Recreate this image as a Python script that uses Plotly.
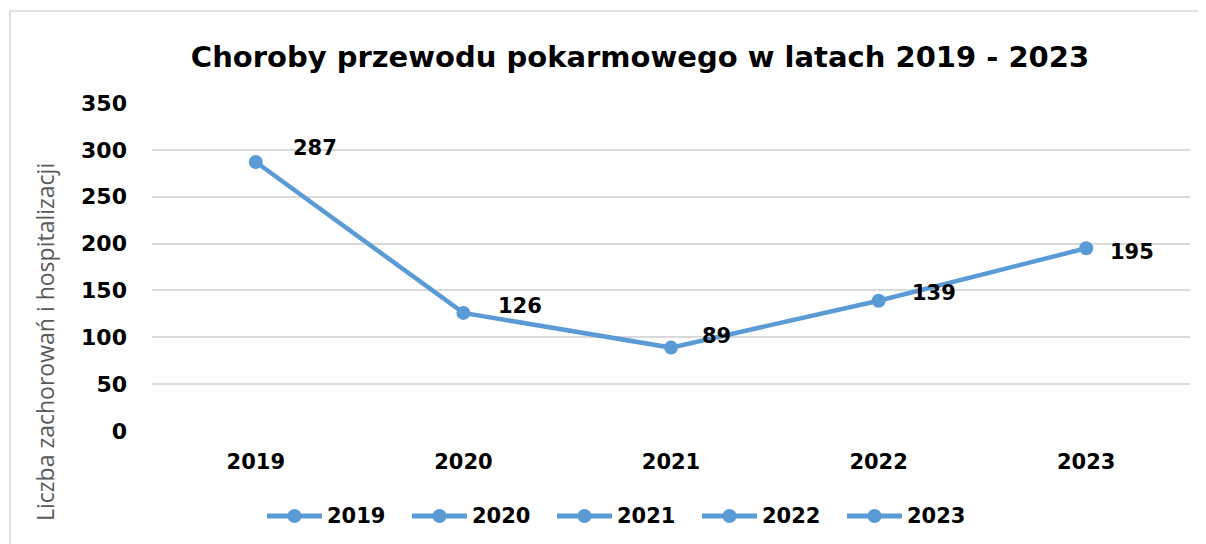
import plotly.graph_objects as go

years = ["2019", "2020", "2021", "2022", "2023"]
cases = [287, 126, 89, 139, 195]
y_ticks = [0, 50, 100, 150, 200, 250, 300, 350]

# label placement offsets (pixels) relative to each point - styling only
label_dx = [35, 33, 29, 31, 22]
label_dy = [14, 7, 12, 8, -4]

BLUE = "#5B9BD5"
FONT = "DejaVu Sans"
W, H = 1206, 544
OFF = 8  # page body margin
L, R, T, B = 144, 24, 95, 121
pw, ph = W - L - R, H - T - B


def px_x(p):  # window pixel -> paper x
    return (p - OFF - L) / pw


def px_y(p):  # window pixel -> paper y
    return 1 - (p - OFF - T) / ph


fig = go.Figure()
fig.add_trace(go.Scatter(
    x=years, y=cases, mode="lines+markers",
    line=dict(color=BLUE, width=4.5),
    marker=dict(color=BLUE, size=14),
    showlegend=False, cliponaxis=False,
))

annotations = []
for i, (v, dx, dy) in enumerate(zip(cases, label_dx, label_dy)):
    annotations.append(dict(
        x=i, y=v, xref="x", yref="y", text=f"<b>{v}</b>", showarrow=False,
        xanchor="left", yanchor="middle", xshift=dx, yshift=dy,
        font=dict(family=FONT, size=21, color="black")))

annotations.append(dict(
    text="Liczba zachorowań i hospitalizacji", textangle=-90,
    xref="paper", yref="paper", x=px_x(45), y=px_y(342),
    xanchor="center", yanchor="middle", showarrow=False,
    font=dict(family="Open Sans", size=23, color="#595959")))

shapes = [dict(type="rect", xref="paper", yref="paper",
               x0=px_x(10), x1=px_x(1260), y0=px_y(11), y1=px_y(600),
               line=dict(color="#D9D9D9", width=1.5), fillcolor="rgba(0,0,0,0)",
               layer="below")]

# manual legend (one entry per category, same style as the series)
LEG_X0, LEG_STEP, LEG_Y = 267, 145, 516
for i, yr in enumerate(years):
    x0 = LEG_X0 + i * LEG_STEP
    shapes.append(dict(type="line", xref="paper", yref="paper",
                       x0=px_x(x0), x1=px_x(x0 + 55), y0=px_y(LEG_Y), y1=px_y(LEG_Y),
                       line=dict(color=BLUE, width=5)))
    shapes.append(dict(type="circle", xref="paper", yref="paper",
                       x0=px_x(x0 + 20.5), x1=px_x(x0 + 34.5),
                       y0=px_y(LEG_Y - 7), y1=px_y(LEG_Y + 7),
                       line=dict(width=0), fillcolor=BLUE))
    annotations.append(dict(
        text=f"<b>{yr}</b>", xref="paper", yref="paper",
        x=px_x(x0 + 58), y=px_y(LEG_Y), xanchor="left", yanchor="middle",
        showarrow=False, font=dict(family=FONT, size=21, color="black")))

fig.update_layout(
    width=W, height=H,
    margin=dict(l=L, r=R, t=T, b=B, autoexpand=False),
    paper_bgcolor="white", plot_bgcolor="white",
    font=dict(family=FONT, color="black"),
    showlegend=False,
    title=dict(text="<b>Choroby przewodu pokarmowego w latach 2019 - 2023</b>",
               x=(640 - OFF) / W, xanchor="center", y=1 - (57 - OFF) / H, yanchor="middle",
               font=dict(family=FONT, size=29, color="black")),
    xaxis=dict(type="category", range=[-0.5, 4.5], showgrid=False, showline=False,
               ticks="", tickfont=dict(family=FONT, size=21, color="black", weight="bold"),
               ticklabelstandoff=16),
    yaxis=dict(range=[0, 350], tickvals=y_ticks, showgrid=True,
               gridcolor="#D9D9D9", gridwidth=1.5, zeroline=False,
               tickfont=dict(family=FONT, size=22, color="black", weight="bold"),
               ticklabelstandoff=24),
    shapes=shapes,
    annotations=annotations,
)

fig.write_html("out.html")
